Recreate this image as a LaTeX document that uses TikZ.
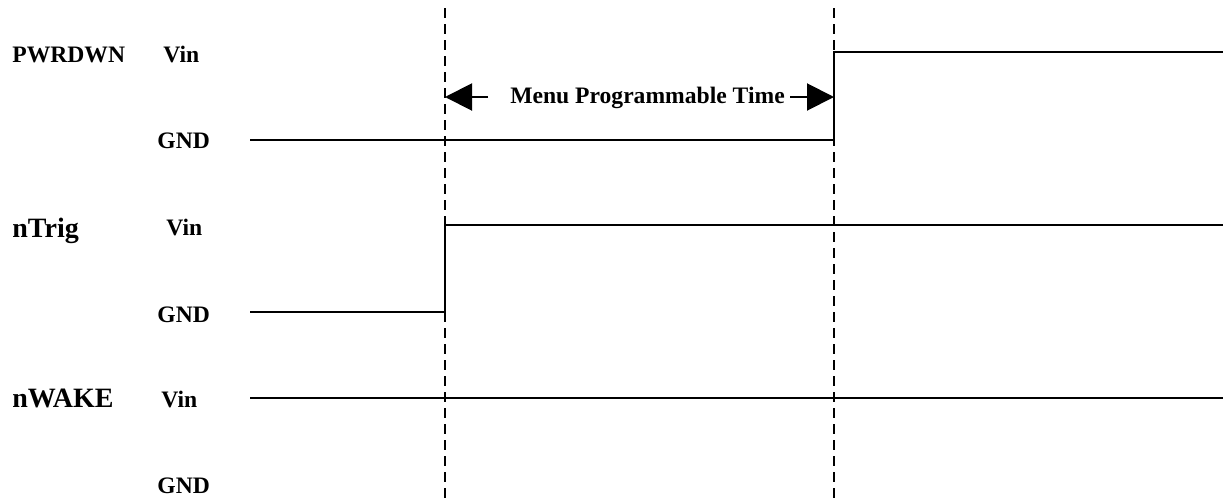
\documentclass[tikz,border=0pt]{standalone}
\usepackage{fontspec}
\setmainfont{Liberation Serif}
\usetikzlibrary{arrows.meta}
\begin{document}
\begin{tikzpicture}[x=0.5pt,y=-0.5pt,
  sig/.style={line width=1pt},
  mark dash/.style={line width=1pt,dash pattern=on 5pt off 3pt},
  lbl/.style={anchor=base west,inner sep=0pt,font=\fontsize{11.8pt}{12pt}\selectfont\bfseries},
  biglbl/.style={anchor=base west,inner sep=0pt,font=\fontsize{14pt}{15pt}\selectfont\bfseries},
  dimarrow/.style={line width=1pt,-{Triangle[length=13.5pt,width=13.5pt]}}]
\useasboundingbox (0,0) rectangle (1223,504);
% dashed time markers
\coordinate (m1t) at (445,8); \coordinate (m1b) at (445,504);
\coordinate (m2t) at (834,8); \coordinate (m2b) at (834,504);
\draw[mark dash] (m1t) -- (m1b);
\draw[mark dash] (m2t) -- (m2b);
% labels
\node[lbl] (pwr) at (12,62) {PWRDWN};
\node[lbl] (pv) at (163,62) {Vin};
\node[lbl] (pg) at (157,148) {GND};
\node[biglbl] (ntr) at (12,237) {nTrig};
\node[lbl] (tv) at (166,235) {Vin};
\node[lbl] (tg) at (157,322) {GND};
\node[biglbl] (nwk) at (12,407) {nWAKE};
\node[lbl] (wv) at (161,407) {Vin};
\node[lbl] (wg) at (157,493) {GND};
% waveforms
\coordinate (p0) at (250,140); \coordinate (p1) at (834,140);
\coordinate (p2) at (834,52); \coordinate (p3) at (1223,52);
\draw[sig] (p0) -- (p1) -- (p2) -- (p3);
\coordinate (t0) at (250,312); \coordinate (t1) at (445,312);
\coordinate (t2) at (445,225); \coordinate (t3) at (1223,225);
\draw[sig] (t0) -- (t1) -- (t2) -- (t3);
\coordinate (w0) at (250,398); \coordinate (w1) at (1223,398);
\draw[sig] (w0) -- (w1);
% dimension arrow
\node[anchor=base,inner sep=0pt,font=\fontsize{11.8pt}{12pt}\selectfont\bfseries] (mpt) at (647.5,103) {Menu Programmable Time};
\coordinate (al) at (488,97); \coordinate (ae) at (445,97);
\coordinate (ar) at (790,97); \coordinate (be) at (834,97);
\draw[dimarrow] (al) -- (ae);
\draw[dimarrow] (ar) -- (be);
\end{tikzpicture}
\end{document}
